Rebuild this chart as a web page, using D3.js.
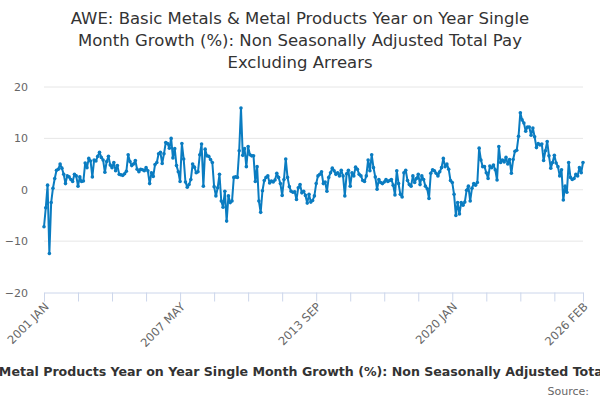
<!DOCTYPE html>
<html>
<head>
<meta charset="utf-8">
<script src="https://cdn.jsdelivr.net/npm/d3@7"></script>
<style>
  body { margin: 0; background: #fff; }
  svg { font-family: "DejaVu Sans", Verdana, sans-serif; }
</style>
</head>
<body>
<div id="chart"></div>
<script>
// Series start: 2001 JAN, one value per month up to 2026 FEB
const START_YEAR = 2001;
const START_MONTH = 0;

const growth2001to2005 = [
  -7.2, -3.5, 0.9, -12.4, -2.5, 0.3, 2.2, 3.8, 4.0, 5.0, 4.2, 3.0,
  1.2, 2.7, 2.5, 2.0, 1.6, 3.0, 2.7, 0.7, 2.5, 1.6, 1.7, 5.2,
  4.3, 6.1, 5.6, 2.5, 5.8, 5.6, 6.5, 7.3, 6.3, 5.8, 3.4, 5.5,
  6.5, 4.8, 4.3, 5.3, 3.7, 4.7, 3.0, 2.9, 2.8, 3.1, 3.6, 6.8,
  5.5, 4.7, 5.0, 5.7, 4.0, 3.5, 4.0, 3.9, 3.7, 4.3, 3.7, 1.2
];
const growth2006to2010 = [
  3.3, 2.6, 4.9, 5.3, 7.0, 7.3, 5.1, 7.0, 9.2, 9.0, 8.1, 10.0,
  6.2, 8.0, 4.7, 3.5, 1.6, 9.0, 6.0, 1.5, 0.5, 1.0, 2.0, 5.0,
  4.4, 3.3, 3.5, 6.8, 8.9, 0.7, 7.9, 6.6, 6.5, 5.9, 5.3, 0.6,
  -1.2, 0.4, 3.0, -2.2, -3.4, -0.3, -6.1, -1.2, -2.5, -2.2, 2.4, 2.5,
  2.4, 7.6, 15.9, 6.7, 8.0, 4.5, 8.4, 6.8, 6.6, 6.6, 1.6, 4.5
];
const growth2011to2015 = [
  -2.2, -4.4, -0.2, 1.8, 2.4, 2.7, 1.3, 1.7, 1.5, 1.9, 3.2, 2.4,
  1.2, -1.1, 2.0, 6.0, 2.4, 0.6, -0.3, -0.5, -0.4, -1.9, 0.4, 1.0,
  -0.6, -0.3, -1.1, -2.6, -0.9, -2.4, -2.1, -1.2, 1.2, 2.7, 3.0, 3.5,
  1.2, 1.5, -0.3, 2.4, 3.3, 4.2, 3.7, 3.0, 3.3, 2.7, 3.8, 2.7,
  -1.2, 3.1, 3.8, 0.7, 3.3, 2.7, 4.4, 4.0, 3.0, 2.7, 1.8, 1.6
];
const growth2016to2020 = [
  2.7, 5.8, 3.7, 6.8, 4.3, 2.5, 0.1, 2.0, 1.4, 1.2, 1.5, 2.0,
  1.6, 1.8, 2.0, 0.9, -1.0, 3.7, 1.2, -0.9, -1.4, 3.3, 3.8, 1.8,
  1.0, 0.7, 2.7, 1.4, 2.2, 3.0, 1.0, 2.7, 2.0, 0.7, 0.2, -1.7,
  3.2, 3.9, 3.7, 3.2, 2.7, 3.5, 4.3, 6.1, 4.5, 5.0, 4.0, 1.8,
  1.4, -0.9, -5.0, -2.5, -4.7, -2.5, -3.0, -2.4, -0.1, 0.7, -2.2, 0.3
];
const growth2021to2026 = [
  1.2, 0.9, 1.4, 8.1, 5.8, 4.5, 4.5, 3.3, 2.2, 4.6, 4.3, 4.8,
  3.9, 1.9, 8.4, 5.3, 5.8, 5.4, 6.3, 5.0, 5.9, 3.2, 5.9, 7.5,
  7.7, 10.4, 15.0, 13.6, 13.0, 11.4, 12.2, 12.2, 10.6, 12.0, 10.3, 8.2,
  9.0, 8.7, 8.9, 5.7, 7.6, 9.4, 6.6, 4.2, 5.3, 6.7, 5.2, 4.5,
  2.7, 3.9, -2.0, 0.7, -0.5, 5.3, 2.4, 2.0, 2.2, 3.0, 2.7, 4.3,
  3.3, 5.3
];

const yTicks = [-20, -10, 0, 10, 20];
const monthNames = ["JAN", "FEB", "MAR", "APR", "MAY", "JUN", "JUL", "AUG", "SEP", "OCT", "NOV", "DEC"];

const titleLines = [
  "AWE: Basic Metals & Metal Products Year on Year Single",
  "Month Growth (%): Non Seasonally Adjusted Total Pay",
  "Excluding Arrears"
];
const seriesName = "AWE: Basic Metals & Metal Products Year on Year Single Month Growth (%): Non Seasonally Adjusted Total Pay Excluding Arrears";

const values = [].concat(growth2001to2005, growth2006to2010, growth2011to2015, growth2016to2020, growth2021to2026);
const data = values.map((v, i) => ({ i: i, v: v }));
const lastIndex = values.length - 1;

function monthLabel(i) {
  const m = START_MONTH + i;
  return (START_YEAR + Math.floor(m / 12)) + " " + monthNames[m % 12];
}

const WIDTH = 600;
const HEIGHT = 400;
const PLOT = { left: 44, right: 583, top: 87, bottom: 292.5 };
const LINE_COLOR = "#0a7cc1";

const svg = d3.select("#chart")
  .append("svg")
  .attr("width", WIDTH)
  .attr("height", HEIGHT);

// Title
svg.append("text")
  .attr("x", WIDTH / 2)
  .attr("y", 24)
  .attr("text-anchor", "middle")
  .style("font-size", "16.5px")
  .style("fill", "#333")
  .selectAll("tspan")
  .data(titleLines)
  .join("tspan")
  .attr("x", WIDTH / 2)
  .attr("dy", (d, i) => i === 0 ? 0 : 22)
  .text(d => d);

// Scales
const x = d3.scaleLinear()
  .domain([0, lastIndex])
  .range([PLOT.left, PLOT.right]);

const y = d3.scaleLinear()
  .domain([-20, 20])
  .range([PLOT.bottom, PLOT.top]);

// Grid lines
svg.append("g")
  .selectAll("line")
  .data(yTicks.filter(d => d !== -20))
  .join("line")
  .attr("x1", PLOT.left)
  .attr("x2", PLOT.right)
  .attr("y1", d => y(d))
  .attr("y2", d => y(d))
  .attr("stroke", "#e6e6e6")
  .attr("stroke-width", 1);

// Y axis (labels only)
const yAxis = svg.append("g")
  .attr("transform", "translate(" + PLOT.left + ",0)")
  .call(d3.axisLeft(y).tickValues(yTicks).tickSize(0).tickPadding(16));
yAxis.select(".domain").remove();
yAxis.selectAll("text")
  .style("font-size", "11px")
  .style("fill", "#666")
  .attr("font-family", "DejaVu Sans, sans-serif");

// X axis: a tick every 19 months, labels on every 4th, plus the last month
const tickEvery = 19;
const xTickValues = d3.range(0, lastIndex, tickEvery).concat([lastIndex]);
const labelled = new Set(d3.range(0, lastIndex, tickEvery * 4).concat([lastIndex]));

const xAxis = svg.append("g")
  .attr("transform", "translate(0," + PLOT.bottom + ")")
  .call(d3.axisBottom(x)
    .tickValues(xTickValues)
    .tickSizeOuter(0)
    .tickSize(9)
    .tickFormat(d => labelled.has(d) ? monthLabel(d) : ""));
xAxis.select(".domain").attr("stroke", "#ccd6eb");
xAxis.selectAll(".tick line").attr("stroke", "#ccd6eb");
xAxis.selectAll("text")
  .attr("font-family", "DejaVu Sans, sans-serif")
  .style("font-size", "11.5px")
  .style("fill", "#666")
  .attr("text-anchor", "end")
  .attr("x", 0)
  .attr("y", 0)
  .attr("dy", 0)
  .attr("transform", "translate(5,15) rotate(-45)");

// Line
const line = d3.line()
  .x(d => x(d.i))
  .y(d => y(d.v));

svg.append("path")
  .datum(data)
  .attr("fill", "none")
  .attr("stroke", LINE_COLOR)
  .attr("stroke-width", 2)
  .attr("stroke-linejoin", "round")
  .attr("d", line);

svg.append("g")
  .selectAll("circle")
  .data(data)
  .join("circle")
  .attr("cx", d => x(d.i))
  .attr("cy", d => y(d.v))
  .attr("r", 1.8)
  .attr("fill", LINE_COLOR);

// Legend (series name, centred and clipped by the page as in the original)
svg.append("text")
  .attr("x", WIDTH / 2 + 8)
  .attr("y", 376)
  .attr("text-anchor", "middle")
  .style("font-size", "12.6px")
  .style("font-weight", "bold")
  .style("fill", "#333")
  .text(seriesName);

// Credits
svg.append("text")
  .attr("x", 589)
  .attr("y", 395)
  .attr("text-anchor", "end")
  .style("font-size", "11px")
  .style("fill", "#666")
  .text("Source:");
</script>
</body>
</html>
